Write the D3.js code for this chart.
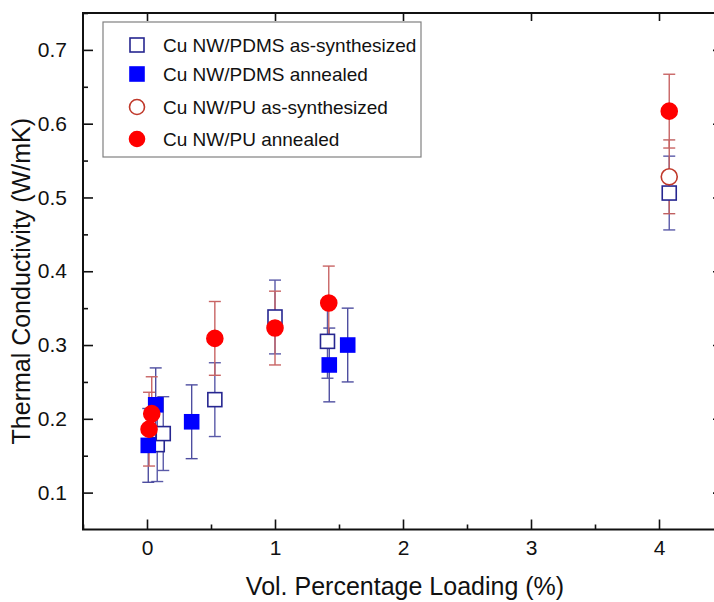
<!DOCTYPE html>
<html>
<head>
<meta charset="utf-8">
<script src="https://cdn.jsdelivr.net/npm/d3@7"></script>
<style>
  html, body { margin: 0; padding: 0; background: #fff; }
  svg { display: block; font-family: "Liberation Sans", Arial, sans-serif; }
</style>
</head>
<body>
<svg id="chart" width="714" height="602"></svg>
<script>
// ---- data ----
const pdmsAsX   = [0.08, 0.127, 0.53, 1.0, 1.41, 4.08];
const pdmsAsY   = [0.165, 0.180, 0.226, 0.338, 0.305, 0.506];
const pdmsAsErr = [0.05, 0.05, 0.05, 0.05, 0.05, 0.05];

const pdmsAnX   = [0.01, 0.068, 0.349, 1.424, 1.568];
const pdmsAnY   = [0.164, 0.219, 0.196, 0.273, 0.300];
const pdmsAnErr = [0.05, 0.05, 0.05, 0.05, 0.05];

const puAsX   = [4.08];
const puAsY   = [0.528];
const puAsErr = [0.05];

const puAnX   = [0.016, 0.037, 0.53, 1.0, 1.42, 4.08];
const puAnY   = [0.186, 0.207, 0.309, 0.323, 0.357, 0.617];
const puAnErr = [0.05, 0.05, 0.05, 0.05, 0.05, 0.05];

const xTicks = [0, 1, 2, 3, 4];
const yTicks = [0.1, 0.2, 0.3, 0.4, 0.5, 0.6, 0.7];
const legendLabels = ["Cu NW/PDMS as-synthesized", "Cu NW/PDMS annealed", "Cu NW/PU as-synthesized", "Cu NW/PU annealed"];
const xTitle = "Vol. Percentage Loading (%)";
const yTitle = "Thermal Conductivity (W/mK)";

// ---- layout ----
const svg = d3.select("#chart");
const L = 83, R = 723, T = 13, B = 529.5;
const x = d3.scaleLinear().domain([-0.5, 4.5]).range([L, R]);
const y = d3.scaleLinear().domain([0.05, 0.75]).range([B, T]);

const zip = (xs, ys, es) => xs.map((v, i) => ({x: v, y: ys[i], e: es[i]}));
const series = [
  {data: zip(pdmsAsX, pdmsAsY, pdmsAsErr), shape: "square", fill: "#fff", stroke: "#262690", err: "#5a5aa8"},
  {data: zip(pdmsAnX, pdmsAnY, pdmsAnErr), shape: "square", fill: "#0000ff", stroke: "#0000ff", err: "#4e4ea0"},
  {data: zip(puAsX, puAsY, puAsErr), shape: "circle", fill: "#fff", stroke: "#c0392b", err: "#c06060"},
  {data: zip(puAnX, puAnY, puAnErr), shape: "circle", fill: "#ff0000", stroke: "#ff0000", err: "#c86464"}
];

// ---- axes (Origin style box, inward ticks) ----
const tickFont = "21px";
const gx = svg.append("g").attr("transform", `translate(0,${B})`)
  .call(d3.axisBottom(x).tickValues(xTicks).tickSizeInner(-10).tickSizeOuter(0).tickPadding(11).tickFormat(d3.format("d")));
gx.selectAll("text").attr("font-size", tickFont).attr("fill", "#111");
gx.select(".domain").remove();
const gxm = svg.append("g").attr("transform", `translate(0,${B})`)
  .call(d3.axisBottom(x).tickValues(d3.range(-0.5, 4.51, 1)).tickSizeInner(-5).tickSizeOuter(0).tickFormat(""));
gxm.select(".domain").remove();

const gy = svg.append("g").attr("transform", `translate(${L},0)`)
  .call(d3.axisLeft(y).tickValues(yTicks).tickSizeInner(-10).tickSizeOuter(0).tickPadding(16).tickFormat(d3.format(".1f")));
gy.selectAll("text").attr("font-size", tickFont).attr("fill", "#111");
gy.select(".domain").remove();
const gym = svg.append("g").attr("transform", `translate(${L},0)`)
  .call(d3.axisLeft(y).tickValues(d3.range(0.15, 0.751, 0.1)).tickSizeInner(-5).tickSizeOuter(0).tickFormat(""));
gym.select(".domain").remove();

// top & right mirrored ticks
const gt = svg.append("g").attr("transform", `translate(0,${T})`)
  .call(d3.axisTop(x).tickValues(xTicks).tickSizeInner(-8).tickSizeOuter(0).tickFormat(""));
gt.select(".domain").remove();
const gr = svg.append("g").attr("transform", `translate(${R},0)`)
  .call(d3.axisRight(y).tickValues(yTicks).tickSizeInner(-10).tickSizeOuter(0).tickFormat(""));
gr.select(".domain").remove();
const grm = svg.append("g").attr("transform", `translate(${R},0)`)
  .call(d3.axisRight(y).tickValues(d3.range(0.15, 0.751, 0.1)).tickSizeInner(-5).tickSizeOuter(0).tickFormat(""));
grm.select(".domain").remove();
svg.selectAll(".tick line").attr("stroke", "#111").attr("stroke-width", 1.6);

svg.append("rect").attr("x", L).attr("y", T).attr("width", R - L).attr("height", B - T)
  .attr("fill", "none").attr("stroke", "#111").attr("stroke-width", 2);

// axis titles
svg.append("text").attr("x", (L + R) / 2 + 2).attr("y", 595).attr("text-anchor", "middle")
  .attr("font-size", "25px").attr("fill", "#111").text(xTitle);
svg.append("text").attr("transform", `translate(30,${(T + B) / 2 + 10}) rotate(-90)`).attr("text-anchor", "middle")
  .attr("font-size", "25px").attr("fill", "#111").text(yTitle);

// ---- legend ----
const lg = svg.append("g");
lg.append("rect").attr("x", 103).attr("y", 22).attr("width", 318).attr("height", 135)
  .attr("fill", "#fff").attr("stroke", "#808080").attr("stroke-width", 1.2);

function drawMarker(g, s, cx, cy) {
  if (s.shape === "square") {
    g.append("rect").attr("x", cx - 7).attr("y", cy - 7).attr("width", 14).attr("height", 14)
      .attr("fill", s.fill).attr("stroke", s.stroke).attr("stroke-width", 1.6);
  } else {
    g.append("circle").attr("cx", cx).attr("cy", cy).attr("r", 7.5)
      .attr("fill", s.fill).attr("stroke", s.stroke).attr("stroke-width", 1.6);
  }
}
const legendY = [45, 74, 107, 139];
series.forEach((s, i) => {
  drawMarker(lg, s, 137, legendY[i]);
  lg.append("text").attr("x", 163).attr("y", legendY[i]).attr("dy", "0.35em")
    .attr("font-size", "19px").attr("fill", "#111").text(legendLabels[i]);
});

// ---- error bars ----
const plot = svg.append("g");
series.forEach(s => {
  const g = plot.append("g").attr("stroke", s.err).attr("stroke-width", 1.4).attr("fill", "none");
  s.data.forEach(d => {
    const px = x(d.x);
    g.append("line").attr("x1", px).attr("x2", px).attr("y1", y(d.y + d.e)).attr("y2", y(d.y - d.e));
    [d.y + d.e, d.y - d.e].forEach(v => {
      g.append("line").attr("x1", px - 6).attr("x2", px + 6).attr("y1", y(v)).attr("y2", y(v));
    });
  });
});

// ---- markers ----
series.forEach(s => {
  const g = plot.append("g");
  s.data.forEach(d => {
    const px = x(d.x), py = y(d.y);
    if (s.shape === "square") {
      g.append("rect").attr("x", px - 7).attr("y", py - 7).attr("width", 14).attr("height", 14)
        .attr("fill", s.fill).attr("stroke", s.stroke).attr("stroke-width", 1.6);
    } else {
      g.append("circle").attr("cx", px).attr("cy", py).attr("r", 8)
        .attr("fill", s.fill).attr("stroke", s.stroke).attr("stroke-width", 1.6);
    }
  });
});
</script>
</body>
</html>
